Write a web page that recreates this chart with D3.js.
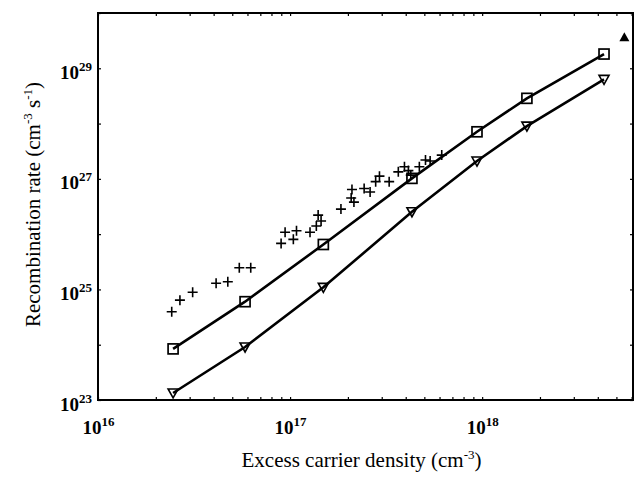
<!DOCTYPE html>
<html>
<head>
<meta charset="utf-8">
<script src="https://cdn.jsdelivr.net/npm/d3@7"></script>
<style>
  body { margin: 0; background: #fff; }
  svg { font-family: "Liberation Serif", "Times New Roman", serif; }
</style>
</head>
<body>
<div id="chart"></div>
<script>
// carrier density where the two model curves were evaluated
var density = [2.46e16, 5.83e16, 1.49e17, 4.31e17, 9.4e17, 1.71e18, 4.31e18];
var squareRate = [8.4e23, 6.0e24, 6.5e25, 1.02e27, 7.1e27, 2.86e28, 1.81e29];
var triangleRate = [1.34e23, 9.1e23, 1.09e25, 2.54e26, 2.1e27, 9.0e27, 6.3e28];

// measured points (+)
var plusDensity = [2.42e16, 2.67e16, 3.11e16, 4.12e16, 4.74e16, 5.44e16, 6.24e16,
  8.98e16, 1.04e17, 9.42e16, 1.08e17, 1.27e17, 1.37e17, 1.40e17, 1.45e17,
  1.84e17, 2.10e17, 2.08e17, 2.15e17, 2.43e17, 2.61e17, 2.79e17, 2.92e17,
  3.28e17, 3.66e17, 3.94e17, 4.13e17, 4.25e17, 4.71e17, 5.07e17, 5.36e17, 6.16e17];
var plusRate = [3.95e24, 6.4e24, 8.9e24, 1.29e25, 1.38e25, 2.47e25, 2.47e25,
  6.8e25, 8.05e25, 1.08e26, 1.15e26, 1.08e26, 1.40e26, 2.21e26, 1.73e26,
  2.84e26, 6.4e26, 4.5e26, 3.8e26, 6.7e26, 5.8e26, 8.9e26, 1.12e27,
  8.9e26, 1.34e27, 1.66e27, 1.41e27, 1.17e27, 1.66e27, 2.19e27, 2.10e27, 2.69e27];

// single filled triangle
var filledDensity = [5.5e18];
var filledRate = [3.66e29];

var xTicks = [1e16, 1e17, 1e18];
var yTicks = [1e23, 1e25, 1e27, 1e29];

var margin = { top: 13, right: 3, bottom: 79, left: 98 },
  width = 636 - margin.left - margin.right,
  height = 479 - margin.top - margin.bottom;

var svg = d3
  .select("#chart")
  .append("svg")
  .attr("width", 636)
  .attr("height", 479)
  .append("g")
  .attr("transform", "translate(" + margin.left + "," + margin.top + ")");

var x = d3.scaleLog().domain([1e16, 6.1e18]).range([0, width]);
var y = d3.scaleLog().domain([1e23, 1e30]).range([height, 0]);

// minor ticks on x (2..9 of each decade)
var xMinor = [];
[1e16, 1e17, 1e18].forEach(function (dec) {
  for (var k = 1; k < 10; k++) {
    if (dec * k <= 6.1e18) xMinor.push(dec * k);
  }
});
var yMinor = [1e23, 1e24, 1e25, 1e26, 1e27, 1e28, 1e29, 1e30];

function isMajor(list, d) {
  return list.some(function (v) { return Math.abs(v - d) / v < 1e-6; });
}

function superscript(g) {
  g.selectAll(".tick text").each(function (d) {
    var t = d3.select(this);
    if (t.text() === "") return;
    var e = Math.round(Math.log10(d));
    t.text(null);
    t.append("tspan").text("10");
    t.append("tspan")
      .attr("dy", "-8")
      .style("font-size", "13px")
      .text(e);
  });
}

function tickStyle(g) {
  g.select(".domain").remove();
  g.selectAll(".tick line").attr("stroke", "#000").attr("stroke-width", 1.2);
}

// bottom axis
svg.append("g")
  .attr("transform", "translate(0," + height + ")")
  .call(d3.axisBottom(x)
    .tickValues(xMinor)
    .tickSizeInner(-3)
    .tickSizeOuter(0)
    .tickPadding(0)
    .tickFormat(function (d) { return isMajor(xTicks, d) ? "1" : ""; }))
  .call(tickStyle)
  .call(function (g) {
    g.selectAll(".tick text")
      .attr("y", 34)
      .attr("dy", null)
      .attr("fill", "#000")
      .style("font-size", "19px")
      .style("font-weight", "bold")
      .style("font-family", "'Liberation Serif', serif");
  })
  .call(superscript);

// left axis
svg.append("g")
  .call(d3.axisLeft(y)
    .tickValues(yMinor)
    .tickSizeInner(-3)
    .tickSizeOuter(0)
    .tickPadding(0)
    .tickFormat(function (d) { return isMajor(yTicks, d) ? "1" : ""; }))
  .call(tickStyle)
  .call(function (g) {
    g.selectAll(".tick text")
      .attr("x", -6)
      .attr("dy", null)
      .attr("y", 10)
      .attr("fill", "#000")
      .style("font-size", "19px")
      .style("font-weight", "bold")
      .style("font-family", "'Liberation Serif', serif");
  })
  .call(superscript);

// top and right ticks, no labels
svg.append("g")
  .call(d3.axisTop(x).tickValues(xMinor).tickSizeInner(-3).tickSizeOuter(0).tickFormat(""))
  .call(tickStyle);

svg.append("g")
  .attr("transform", "translate(" + width + ",0)")
  .call(d3.axisRight(y).tickValues(yMinor).tickSizeInner(-3).tickSizeOuter(0).tickFormat(""))
  .call(tickStyle);

// frame
svg.append("rect")
  .attr("x", 0)
  .attr("y", 0)
  .attr("width", width)
  .attr("height", height)
  .attr("fill", "none")
  .attr("stroke", "#000")
  .attr("stroke-width", 2);

var line = d3.line()
  .x(function (d) { return x(d[0]); })
  .y(function (d) { return y(d[1]); });

var squarePts = d3.zip(density, squareRate);
var trianglePts = d3.zip(density, triangleRate);

svg.append("path")
  .datum(squarePts)
  .attr("d", line)
  .attr("fill", "none")
  .attr("stroke", "#000")
  .attr("stroke-width", 2.6);

svg.append("path")
  .datum(trianglePts)
  .attr("d", line)
  .attr("fill", "none")
  .attr("stroke", "#000")
  .attr("stroke-width", 2.6);

// open squares
svg.selectAll(".sq")
  .data(squarePts)
  .enter()
  .append("rect")
  .attr("class", "sq")
  .attr("x", function (d) { return x(d[0]) - 5; })
  .attr("y", function (d) { return y(d[1]) - 5; })
  .attr("width", 10)
  .attr("height", 10)
  .attr("fill", "none")
  .attr("stroke", "#000")
  .attr("stroke-width", 1.7);

// open down triangles
svg.selectAll(".tri")
  .data(trianglePts)
  .enter()
  .append("path")
  .attr("class", "tri")
  .attr("d", "M-5,-4L5,-4L0,5Z")
  .attr("transform", function (d) {
    return "translate(" + x(d[0]) + "," + y(d[1]) + ")";
  })
  .attr("fill", "none")
  .attr("stroke", "#000")
  .attr("stroke-width", 1.6);

// plus markers
svg.selectAll(".plus")
  .data(d3.zip(plusDensity, plusRate))
  .enter()
  .append("path")
  .attr("class", "plus")
  .attr("d", "M-5,0L5,0M0,-5L0,5")
  .attr("transform", function (d) {
    return "translate(" + x(d[0]) + "," + y(d[1]) + ")";
  })
  .attr("stroke", "#000")
  .attr("stroke-width", 1.6);

// filled up triangle
svg.selectAll(".filled")
  .data(d3.zip(filledDensity, filledRate))
  .enter()
  .append("path")
  .attr("class", "filled")
  .attr("d", "M-5,4L5,4L0,-5Z")
  .attr("transform", function (d) {
    return "translate(" + x(d[0]) + "," + y(d[1]) + ")";
  })
  .attr("fill", "#000");

// axis titles
var xt = svg.append("text")
  .attr("x", width / 2 - 4)
  .attr("y", 467 - margin.top)
  .attr("text-anchor", "middle")
  .style("font-size", "21px");
xt.append("tspan").text("Excess carrier density (cm");
xt.append("tspan").attr("dy", -8).style("font-size", "13px").text("-3");
xt.append("tspan").attr("dy", 8).text(")");

var yt = svg.append("text")
  .attr("transform", "translate(" + (40 - margin.left) + "," + (height / 2 - 2) + ") rotate(-90)")
  .attr("text-anchor", "middle")
  .style("font-size", "21px");
yt.append("tspan").text("Recombination rate (cm");
yt.append("tspan").attr("dy", -8).style("font-size", "13px").text("-3");
yt.append("tspan").attr("dy", 8).text(" s");
yt.append("tspan").attr("dy", -8).style("font-size", "13px").text("-1");
yt.append("tspan").attr("dy", 8).text(")");
</script>
</body>
</html>
